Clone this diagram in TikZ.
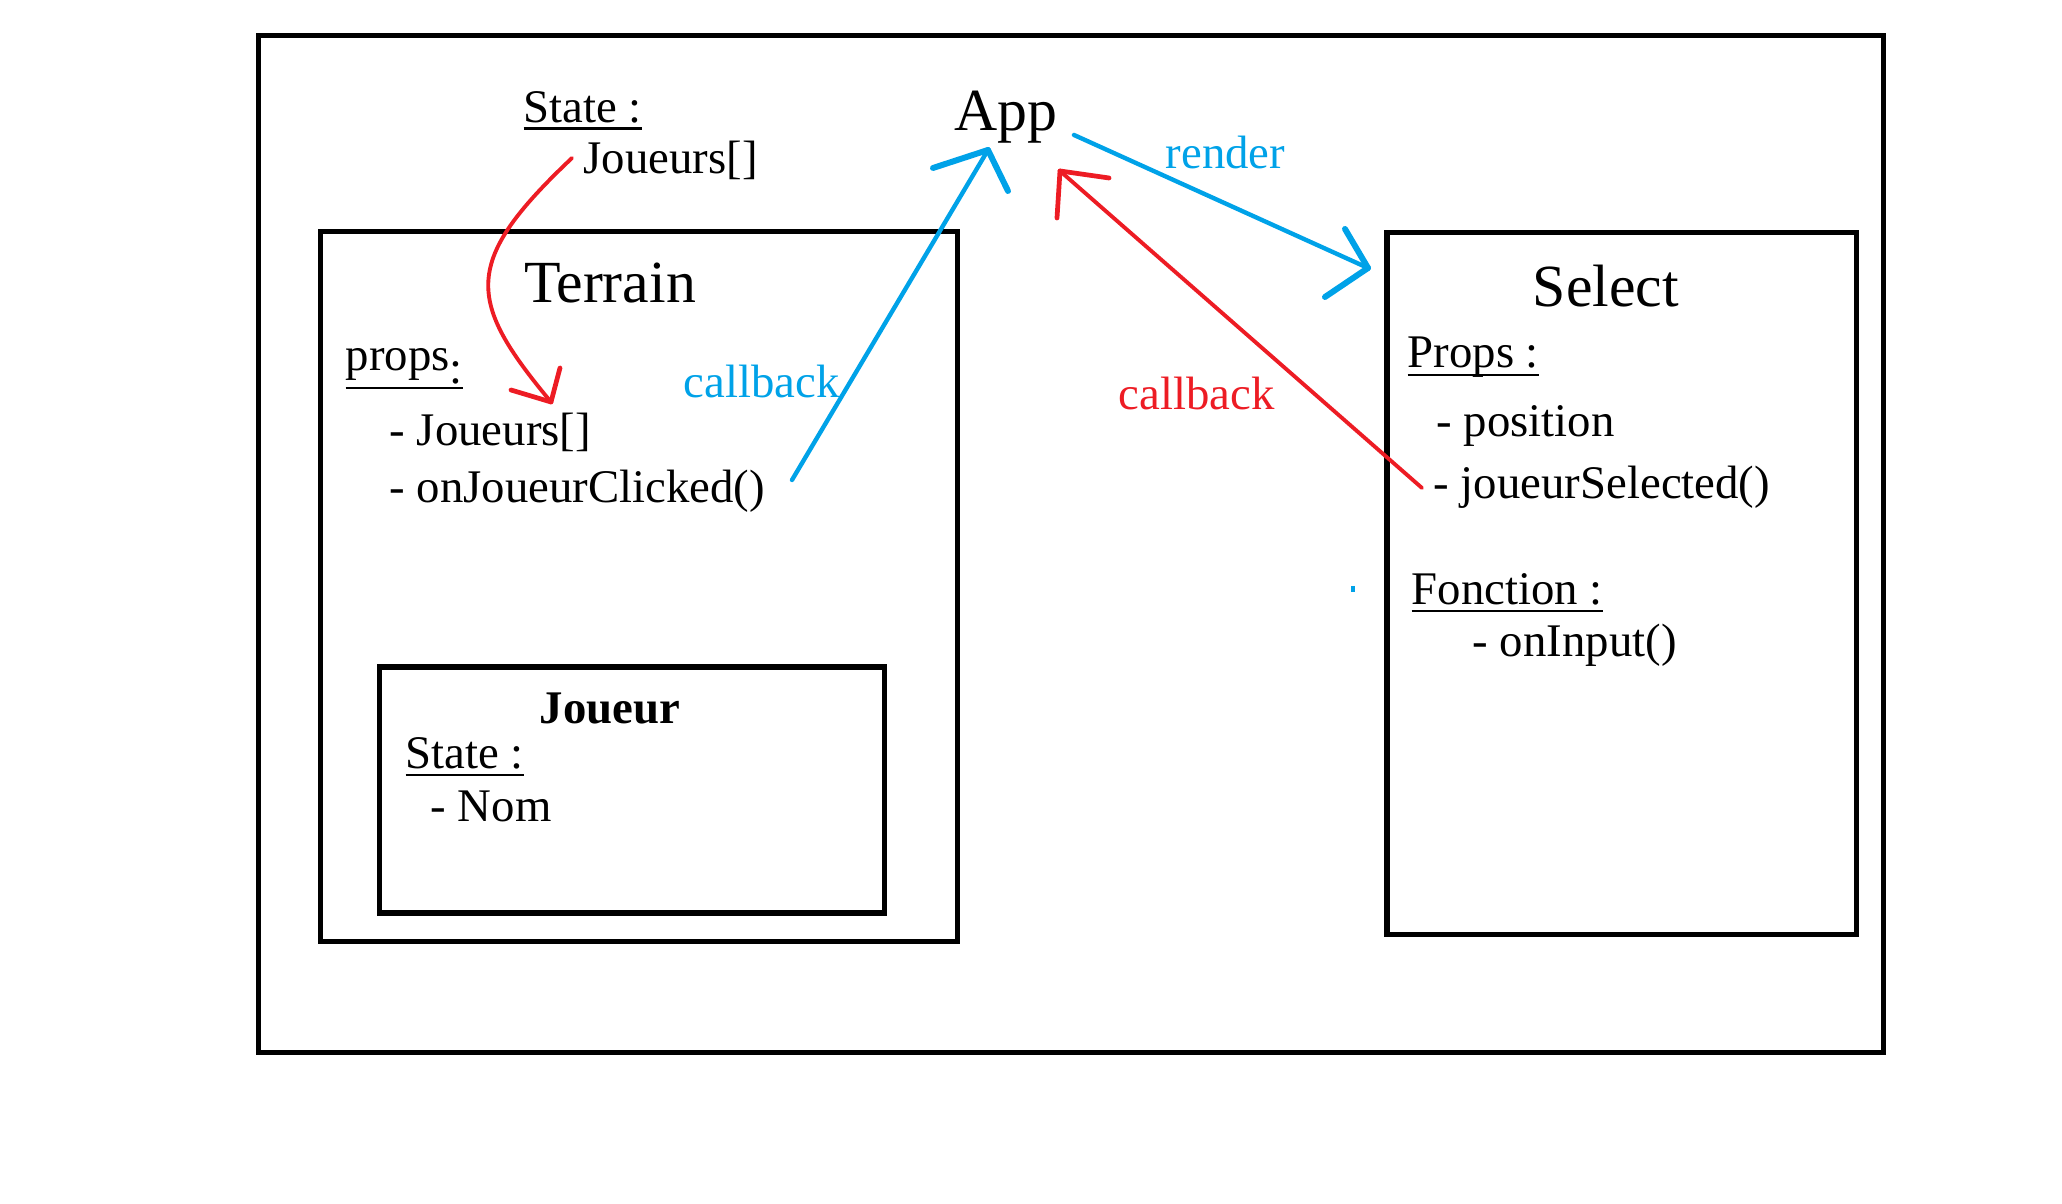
\documentclass[tikz,border=0pt]{standalone}
\usepackage{fontspec}
\setmainfont{Liberation Serif}
\usetikzlibrary{calc}
\definecolor{pblue}{HTML}{00A2E8}
\definecolor{pred}{HTML}{ED1C24}
\newcommand\myul[2]{\setbox0\hbox{#2}\rlap{\rule[-#1]{\wd0}{0.7pt}}\box0}
\begin{document}
\begin{tikzpicture}[x=0.01cm,y=-0.01cm,
  txt/.style={anchor=base west,inner sep=0pt,font=\fontsize{13.3}{16}\selectfont},
  ttl/.style={anchor=base,inner sep=0pt,font=\fontsize{17}{20}\selectfont},
  box/.style={draw,line width=1.5pt,inner sep=0pt,outer sep=0pt},
  bline/.style={pblue,line width=1.25pt,line cap=round},
  bhead/.style={pblue,line width=1.7pt,line cap=round},
  rline/.style={pred,line width=1.1pt,line cap=round},
  rhead/.style={pred,line width=1.35pt,line cap=round}]
\useasboundingbox (0,0) rectangle (2062,1204);

% boxes
\node[box,minimum width=16.24cm,minimum height=10.165cm] (outer) at (1071,543.75) {};
\node[box,minimum width=6.36cm,minimum height=7.10cm] (terrain) at (639,586.5) {};
\node[box,minimum width=5.04cm,minimum height=2.46cm] (joueur) at (632,790) {};
\node[box,minimum width=4.69cm,minimum height=7.01cm] (select) at (1621.5,583.5) {};

% App
\node[ttl] (app) at (1006,131) {App};
\node[txt] (appstate) at (523,123) {\myul{1.9pt}{State :}};
\node[txt] (appjoueurs) at (583,174) {Joueurs[]};
\node[txt,text=pblue] (render) at (1165,169) {render};

% Terrain
\node[ttl] (terraintitle) at (610,303) {Terrain};
\node[txt] (props) at (345,371) {\myul{5.2pt}{props\raisebox{-3.5pt}{:}}};
\node[txt] (tjoueurs) at (389,446) {- Joueurs[]};
\node[txt] (tclick) at (389,503) {- onJoueurClicked()};
\node[txt,text=pblue] (cbblue) at (683,398) {callback};

% Joueur
\node[ttl,font=\fontsize{13.3}{16}\selectfont\bfseries] (joueurtitle) at (610,724) {Joueur};
\node[txt] (jstate) at (405,769) {\myul{2.1pt}{State :}};
\node[txt] (jnom) at (430,822) {- Nom};

% Select
\node[ttl] (selecttitle) at (1606,307) {Select};
\node[txt] (sprops) at (1407,368) {\myul{2.3pt}{Props :}};
\node[txt] (spos) at (1436,437) {- position};
\node[txt] (ssel) at (1433,499) {- joueurSelected()};
\node[txt] (sfonc) at (1411,605) {\myul{2.1pt}{Fonction :}};
\node[txt] (sinput) at (1472,657) {- onInput()};
\node[txt,text=pred] (cbred) at (1118,410) {callback};

% arrow end points
\coordinate (rs) at (572,158);
\coordinate (rt) at (551,402);
\coordinate (bs) at (792,480);
\coordinate (bt) at (988,150);
\coordinate (ns) at (1074,135);
\coordinate (nt) at (1368,268);
\coordinate (cs) at (1422,488);
\coordinate (ct) at (1060,171);

% state -> props (red curve)
\draw[rline] (rs) .. controls (462,262) and (466,300) .. (rt);
\draw[rhead] (rt) -- ++(-40,-12);
\draw[rhead] (rt) -- ++(9,-34);

% onJoueurClicked -> App (blue)
\draw[bline] (bs) -- (bt);
\draw[bhead] (bt) -- ++(-55,18);
\draw[bhead] (bt) -- ++(20,41);

% App -> Select (render)
\draw[bline] (ns) -- (nt);
\draw[bhead] (nt) -- ++(-23,-39);
\draw[bhead] (nt) -- ++(-43,29);

% joueurSelected -> App (red)
\draw[rline] (cs) -- (ct);
\draw[rhead] (ct) -- ++(49,7);
\draw[rhead] (ct) -- ++(-3,47);

% stray blue dot
\draw[pblue,line width=1pt] (1353,586) -- (1353,592);
\end{tikzpicture}
\end{document}
